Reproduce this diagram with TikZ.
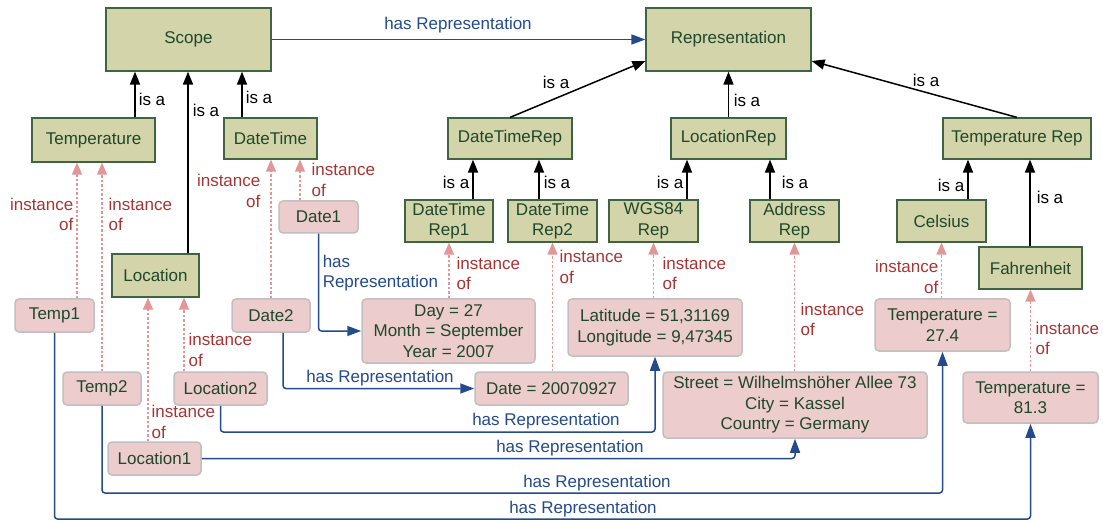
\documentclass[tikz,border=0pt]{standalone}
\usepackage{fontspec}
\setmainfont{Liberation Sans}
\usetikzlibrary{arrows.meta}
\definecolor{clsfill}{RGB}{211,212,170}
\definecolor{clsdraw}{RGB}{62,100,66}
\definecolor{nodetext}{RGB}{30,72,42}
\definecolor{instfill}{RGB}{236,204,204}
\definecolor{instdraw}{RGB}{196,190,190}
\definecolor{instline}{RGB}{226,150,150}
\definecolor{instred}{RGB}{168,52,52}
\definecolor{hasblue}{RGB}{36,74,140}
\begin{document}
\begin{tikzpicture}[x=1pt,y=-1pt,
  font=\fontsize{17}{20.5}\selectfont,
  cls/.style={draw=clsdraw, fill=clsfill, line width=1.2pt, text=nodetext,
    inner sep=0pt, align=center},
  inst/.style={draw=instdraw, fill=instfill, line width=1.5pt, rounded corners=4pt,
    text=nodetext, inner sep=0pt, align=center},
  isa/.style={draw=black, line width=1.5pt, -{Triangle[length=13pt,width=10pt]}},
  instof/.style={draw=instline, line width=1.3pt, dash pattern=on 2.5pt off 2pt,
    -{Triangle[length=12pt,width=10pt]}},
  hasrep/.style={draw=hasblue, line width=1.5pt, rounded corners=3pt,
    -{Triangle[length=14pt,width=10pt]}},
  isal/.style={text=black, inner sep=0pt, anchor=west},
  isar/.style={text=black, inner sep=0pt, anchor=east},
  isac/.style={text=black, inner sep=0pt},
  instl/.style={text=instred, inner sep=0pt, anchor=west, align=left},
  instr/.style={text=instred, inner sep=0pt, anchor=east, align=right},
  hasl/.style={text=hasblue, inner sep=0pt},
]
\useasboundingbox (0,0) rectangle (1103,521);

% class nodes
\node[cls, minimum width=165pt, minimum height=63pt] (scope) at (188.5,39.5) {Scope};
\node[cls, minimum width=165pt, minimum height=63pt] (rep) at (728.5,39.5) {Representation};
\node[cls, minimum width=123pt, minimum height=44pt] (temperature) at (93.5,140) {Temperature};
\node[cls, minimum width=93pt, minimum height=41pt] (datetime) at (270.5,138.5) {DateTime};
\node[cls, minimum width=87pt, minimum height=43pt] (location) at (155.5,275.5) {Location};
\node[cls, minimum width=124pt, minimum height=41pt] (dtrep) at (510,138.5) {DateTimeRep};
\node[cls, minimum width=115pt, minimum height=41pt] (locrep) at (728.5,138.5) {LocationRep};
\node[cls, minimum width=148pt, minimum height=41pt] (temprep) at (1017,138.5) {Temperature Rep};
\node[cls, minimum width=88pt, minimum height=42pt] (dtrep1) at (449,221) {DateTime\\Rep1};
\node[cls, minimum width=89pt, minimum height=42pt] (dtrep2) at (552.5,221) {DateTime\\Rep2};
\node[cls, minimum width=89pt, minimum height=42pt] (wgs) at (653.5,221) {WGS84\\Rep};
\node[cls, minimum width=89pt, minimum height=42pt] (addr) at (794.5,221) {Address\\Rep};
\node[cls, minimum width=89pt, minimum height=42pt] (celsius) at (941.5,221) {Celsius};
\node[cls, minimum width=103pt, minimum height=42pt] (fahr) at (1030.5,268) {Fahrenheit};

% instance nodes
\node[inst, minimum width=79pt, minimum height=32pt] (date1) at (318.5,217) {Date1};
\node[inst, minimum width=79pt, minimum height=33pt] (temp1) at (54.5,315.5) {Temp1};
\node[inst, minimum width=78pt, minimum height=33pt] (date2) at (271,315.5) {Date2};
\node[inst, minimum width=78pt, minimum height=33pt] (temp2) at (102,388.5) {Temp2};
\node[inst, minimum width=93pt, minimum height=33pt] (loc2) at (220.5,388.5) {Location2};
\node[inst, minimum width=93pt, minimum height=33pt] (loc1) at (154.5,458.5) {Location1};
\node[inst, minimum width=173pt, minimum height=64pt] (day) at (448.5,331) {Day = 27\\Month = September\\Year = 2007};
\node[inst, minimum width=153pt, minimum height=33pt] (dateval) at (551.5,388.5) {Date = 20070927};
\node[inst, minimum width=174pt, minimum height=57pt] (lat) at (655,327.5) {Latitude = 51,31169\\Longitude = 9,47345};
\node[inst, minimum width=264pt, minimum height=66pt] (street) at (795,405) {Street = Wilhelmshöher Allee 73\\City = Kassel\\Country = Germany};
\node[inst, minimum width=135pt, minimum height=52pt] (t274) at (942.5,325) {Temperature =\\27.4};
\node[inst, minimum width=135pt, minimum height=51pt] (t813) at (1030.5,397.5) {Temperature =\\81.3};

% is a
\draw[isa] (temperature.north -| 135,0) -- (scope.south -| 135,0) node[isal] at (138,99) {is a};
\draw[isa] (location.north -| 188,0) -- (scope.south -| 188,0) node[isal] at (192,110) {is a};
\draw[isa] (datetime.north -| 242,0) -- (scope.south -| 242,0) node[isal] at (245,97) {is a};
\draw[isa] (dtrep.north) -- (rep.west |- 0,61) node[isac] at (556,82) {is a};
\draw[isa] (locrep.north) -- (rep.south) node[isal] at (733,100) {is a};
\draw[isa] (temprep.north) -- (rep.east |- 0,61) node[isac] at (926,80) {is a};
\draw[isa] (dtrep1.north -| 473,0) -- (dtrep.south -| 473,0) node[isar] at (470,182) {is a};
\draw[isa] (dtrep2.north -| 539,0) -- (dtrep.south -| 539,0) node[isal] at (543,182) {is a};
\draw[isa] (wgs.north -| 687,0) -- (locrep.south -| 687,0) node[isar] at (684,182) {is a};
\draw[isa] (addr.north -| 770,0) -- (locrep.south -| 770,0) node[isal] at (781,182) {is a};
\draw[isa] (celsius.north -| 968,0) -- (temprep.south -| 968,0) node[isar] at (965,185) {is a};
\draw[isa] (fahr.north -| 1030,0) -- (temprep.south -| 1030,0) node[isal] at (1036,197) {is a};

% instance of
\draw[instof] (temp1.north -| 77,0) -- (temperature.south -| 77,0) node[instr] at (74,214.5) {instance\\of};
\draw[instof] (temp2.north) -- (temperature.south -| temp2.north) node[instl] at (108,214.5) {instance\\of};
\draw[instof] (date2.north) -- (datetime.south -| date2.north) node[instr] at (261,191) {instance\\of};
\draw[instof] (date1.north -| 300,0) -- (datetime.south -| 300,0) node[instl] at (311,180) {instance\\of};
\draw[instof] (loc1.north -| 148,0) -- (location.south -| 148,0) node[instl] at (151,422) {instance\\of};
\draw[instof] (loc2.north -| 184,0) -- (location.south -| 184,0) node[instl] at (188,350) {instance\\of};
\draw[instof] (day.north -| dtrep1.south) -- (dtrep1.south) node[instl] at (456,273.5) {instance\\of};
\draw[instof] (dateval.north -| dtrep2.south) -- (dtrep2.south) node[instl] at (559,267) {instance\\of};
\draw[instof] (lat.north -| wgs.south) -- (wgs.south) node[instl] at (662,273.5) {instance\\of};
\draw[instof] (street.north -| addr.south) -- (addr.south) node[instl] at (800,319.5) {instance\\of};
\draw[instof] (t274.north -| celsius.south) -- (celsius.south) node[instr] at (939,277) {instance\\of};
\draw[instof] (t813.north -| fahr.south) -- (fahr.south) node[instl] at (1035,338.5) {instance\\of};

% has Representation
\draw[hasrep] (scope.east) -- (rep.west) node[hasl] at (458,25) {has Representation};
\draw[hasrep] (date1.south) |- (day.west) node[hasl, anchor=west, align=left] at (322,273) {has\\Representation};
\draw[hasrep] (date2.south -| 283,0) |- (dateval.west) node[hasl] at (380,378) {has Representation};
\draw[hasrep] (loc2.south) |- (lat.south |- 0,432) -- (lat.south) node[hasl] at (546,421) {has Representation};
\draw[hasrep] (loc1.east) -| (street.south) node[hasl] at (570,448) {has Representation};
\draw[hasrep] (temp2.south) |- (t274.south |- 0,493) -- (t274.south) node[hasl] at (597,483) {has Representation};
\draw[hasrep] (temp1.south) |- (t813.south |- 0,519) -- (t813.south) node[hasl] at (583,509) {has Representation};
\end{tikzpicture}
\end{document}
